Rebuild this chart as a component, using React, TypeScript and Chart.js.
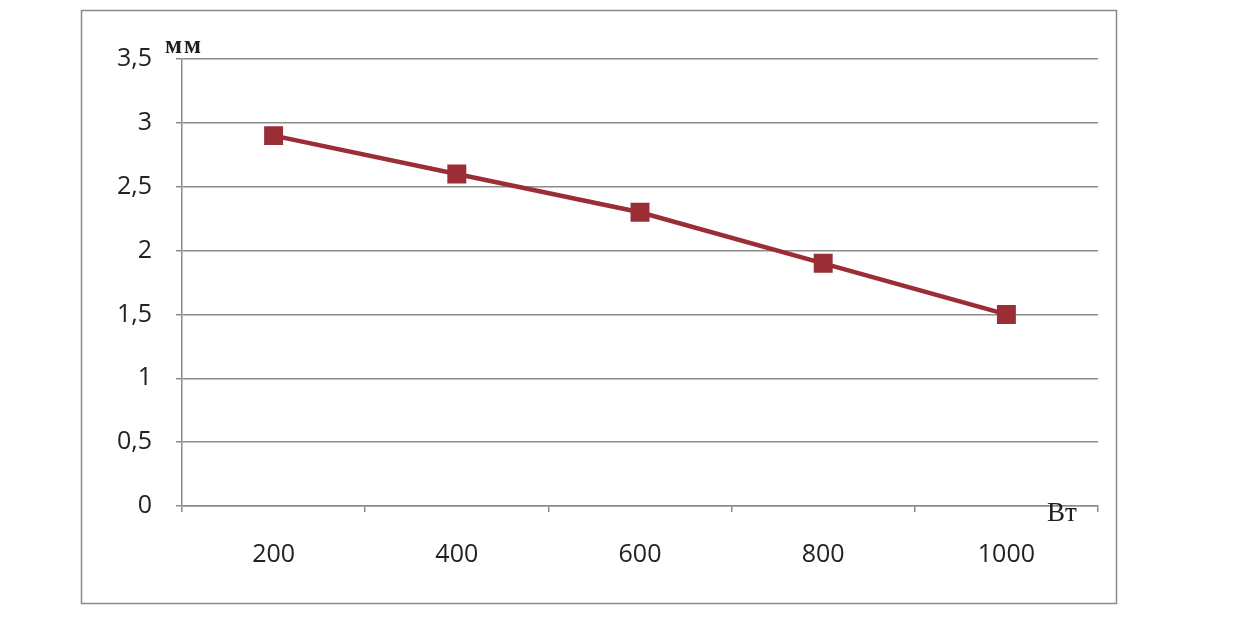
import React, { useEffect, useRef } from "react";
import { Chart, registerables } from "chart.js";

Chart.register(...registerables);

const categories = ["200", "400", "600", "800", "1000"];
const values = [2.9, 2.6, 2.3, 1.9, 1.5];
const yTickMin = 0;
const yTickMax = 3.5;
const yTickStep = 0.5;
const yUnit = "мм";
const xUnit = "Вт";

const LINE_COLOR = "#9b2d36";
const GRID_COLOR = "#8c8c8c";

const decorPlugin = {
  id: "decor",
  beforeDraw(chart: any) {
    const ctx = chart.ctx;
    ctx.save();
    ctx.fillStyle = "#ffffff";
    ctx.fillRect(0, 0, chart.width, chart.height);
    ctx.strokeStyle = "#8a8a8a";
    ctx.lineWidth = 1.5;
    ctx.strokeRect(81.5, 10.5, 1035, 593);
    ctx.restore();
  },
  afterDraw(chart: any) {
    const ctx = chart.ctx;
    const area = chart.chartArea;
    ctx.save();
    ctx.fillStyle = "#1f1f1f";
    ctx.textBaseline = "alphabetic";
    ctx.textAlign = "left";
    ctx.font = "bold 25px 'Liberation Serif', 'DejaVu Serif', serif";
    (ctx as any).letterSpacing = "2px";
    ctx.fillText(yUnit, area.left - 17, area.top - 6);
    (ctx as any).letterSpacing = "0px";
    ctx.font = "27px 'Liberation Serif', 'DejaVu Serif', serif";
    ctx.fillText(xUnit, area.right - 51, area.bottom + 15);
    ctx.restore();
  },
};

export default function App() {
  const ref = useRef<HTMLCanvasElement | null>(null);
  useEffect(() => {
    if (!ref.current) return;
    const chart = new Chart(ref.current, {
      type: "line",
      data: {
        labels: categories,
        datasets: [
          {
            data: values,
            borderColor: LINE_COLOR,
            backgroundColor: LINE_COLOR,
            borderWidth: 4.5,
            pointStyle: "rect",
            pointRadius: 13.4,
            pointHoverRadius: 13.4,
            pointBorderWidth: 0,
            tension: 0,
          },
        ],
      },
      options: {
        animation: false,
        responsive: false,
        maintainAspectRatio: false,
        events: [],
        layout: { padding: { left: 0, top: 59, right: 159, bottom: 0 } },
        plugins: { legend: { display: false }, tooltip: { enabled: false } },
        scales: {
          x: {
            type: "category",
            offset: true,
            grid: {
              offset: true,
              drawOnChartArea: false,
              drawTicks: true,
              tickLength: 6,
              color: GRID_COLOR,
              lineWidth: 1.5,
            },
            border: { display: true, color: GRID_COLOR, width: 1.5 },
            ticks: {
              color: "#222",
              font: { family: "'Open Sans', sans-serif", size: 25 },
              padding: 28,
              maxRotation: 0,
            },
            afterFit(scale: any) {
              scale.height = 623 - 506;
            },
          },
          y: {
            min: yTickMin,
            max: yTickMax,
            ticks: {
              stepSize: yTickStep,
              color: "#222",
              font: { family: "'Open Sans', sans-serif", size: 25 },
              padding: 24,
              callback: (v: any) => String(v).replace(".", ","),
            },
            grid: {
              color: GRID_COLOR,
              lineWidth: 1.5,
              drawTicks: true,
              tickLength: 6,
            },
            border: { display: true, color: GRID_COLOR, width: 1.5 },
            afterFit(scale: any) {
              scale.width = 182;
            },
          },
        },
      },
      plugins: [decorPlugin],
    });
    return () => chart.destroy();
  }, []);
  return (
    <div style={{ position: "fixed", left: 0, top: 0, width: 1257, height: 623, background: "#fff" }}>
      <canvas ref={ref} width={1257} height={623} style={{ display: "block", width: 1257, height: 623 }} />
    </div>
  );
}
